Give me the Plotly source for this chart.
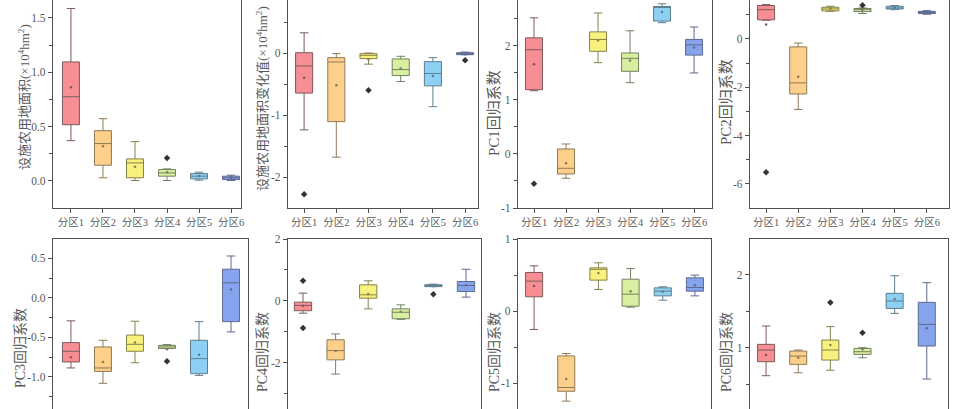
import plotly.graph_objects as go

W, H = 962, 409

ZONES = ["分区1", "分区2", "分区3", "分区4", "分区5", "分区6"]
FILLS = ["#F68E93", "#FCCF8A", "#F8F17E", "#D8EFA0", "#8ED0F4", "#86A3EE"]
LINES = ["#7E5A5C", "#8F7A55", "#85824A", "#748060", "#5D7D8F", "#5E6A8F"]

# ---- panel 1: 设施农用地面积
P1_LOW = [0.37, 0.028, 0.003, 0.003, 0.006, 0.003]
P1_Q1 = [0.517, 0.144, 0.028, 0.043, 0.018, 0.012]
P1_MED = [0.774, 0.343, 0.165, 0.073, 0.043, 0.028]
P1_Q3 = [1.095, 0.462, 0.202, 0.104, 0.067, 0.043]
P1_HIGH = [1.587, 0.572, 0.361, 0.11, 0.08, 0.052]
P1_MEAN = [0.862, 0.318, 0.13, 0.08, 0.045, 0.03]
P1_OUT = [(4, 0.211)]

# ---- panel 2: 设施农用地面积变化值
P2_LOW = [-1.24, -1.68, -0.18, -0.46, -0.866, -0.027]
P2_Q1 = [-0.647, -1.107, -0.09, -0.364, -0.53, -0.027]
P2_MED = [-0.209, -0.144, -0.037, -0.267, -0.33, -0.005]
P2_Q3 = [0.005, -0.075, -0.01, -0.096, -0.139, 0.005]
P2_HIGH = [0.326, -0.01, 0.0, -0.053, -0.075, 0.016]
P2_MEAN = [-0.40, -0.52, -0.10, -0.25, -0.37, -0.02]
P2_OUT = [(1, -2.28), (3, -0.6), (6, -0.118)]

# ---- panel 3: PC1
P3_LOW = [1.17, -0.45, 1.69, 1.32, 2.43, 1.50]
P3_Q1 = [1.19, -0.37, 1.90, 1.53, 2.46, 1.83]
P3_MED = [1.93, -0.265, 2.12, 1.77, 2.71, 2.02]
P3_Q3 = [2.15, 0.093, 2.26, 1.87, 2.73, 2.12]
P3_HIGH = [2.52, 0.185, 2.61, 2.28, 2.78, 2.35]
P3_MEAN = [1.66, -0.17, 2.10, 1.73, 2.63, 1.97]
P3_OUT = [(1, -0.55)]

# ---- panel 4: PC2
P4_LOW = [0.77, -2.92, 1.14, 1.05, 1.21, 1.02]
P4_Q1 = [0.79, -2.28, 1.16, 1.13, 1.24, 1.05]
P4_MED = [1.21, -1.82, 1.24, 1.21, 1.28, 1.10]
P4_Q3 = [1.38, -0.33, 1.31, 1.26, 1.35, 1.14]
P4_HIGH = [1.42, -0.17, 1.35, 1.28, 1.38, 1.17]
P4_MEAN = [0.60, -1.57, 1.25, 1.20, 1.30, 1.10]
P4_OUT = [(1, -5.52), (4, 1.39)]

# ---- panel 5: PC3
P5_LOW = [-0.886, -1.08, -0.82, -0.64, -0.98, -0.43]
P5_Q1 = [-0.81, -0.93, -0.675, -0.64, -0.958, -0.30]
P5_MED = [-0.675, -0.886, -0.587, -0.62, -0.768, 0.19]
P5_Q3 = [-0.565, -0.62, -0.47, -0.60, -0.536, 0.363]
P5_HIGH = [-0.29, -0.536, -0.295, -0.59, -0.30, 0.53]
P5_MEAN = [-0.75, -0.81, -0.565, -0.65, -0.72, 0.105]
P5_OUT = [(4, -0.80)]

# ---- panel 6: PC4
P6_LOW = [-0.40, -2.37, -0.26, -0.60, 0.46, 0.12]
P6_Q1 = [-0.32, -1.91, 0.086, -0.58, 0.46, 0.30]
P6_MED = [-0.15, -1.61, 0.194, -0.37, 0.50, 0.496]
P6_Q3 = [-0.043, -1.26, 0.517, -0.26, 0.52, 0.625]
P6_HIGH = [0.248, -1.07, 0.647, -0.13, 0.54, 1.02]
P6_MEAN = [-0.16, -1.62, 0.22, -0.35, 0.47, 0.50]
P6_OUT = [(1, 0.647), (1, -0.88), (5, 0.216)]

# ---- panel 7: PC5
P7_LOW = [-0.254, -1.247, 0.30, 0.055, 0.152, 0.212]
P7_Q1 = [0.199, -1.11, 0.43, 0.069, 0.212, 0.277]
P7_MED = [0.416, -1.058, 0.58, 0.236, 0.277, 0.328]
P7_Q3 = [0.536, -0.62, 0.60, 0.443, 0.323, 0.462]
P7_HIGH = [0.628, -0.587, 0.67, 0.59, 0.337, 0.499]
P7_MEAN = [0.35, -0.94, 0.53, 0.277, 0.27, 0.36]
P7_OUT = []

# ---- panel 8: PC6
P8_LOW = [0.615, 0.656, 0.69, 0.862, 1.472, 0.569]
P8_Q1 = [0.807, 0.771, 0.83, 0.908, 1.54, 1.023]
P8_MED = [0.968, 0.885, 0.968, 0.945, 1.642, 1.32]
P8_Q3 = [1.046, 0.954, 1.105, 0.99, 1.748, 1.624]
P8_HIGH = [1.298, 0.968, 1.29, 1.0, 1.99, 1.894]
P8_MEAN = [0.90, 0.862, 1.037, 0.98, 1.67, 1.266]
P8_OUT = [(3, 1.62), (4, 1.206)]

TITLES = [
    "设施农用地面积(×10<sup>4</sup>hm<sup>2</sup>)",
    "设施农用地面积变化值(×10<sup>4</sup>hm<sup>2</sup>)",
    "PC1回归系数", "PC2回归系数", "PC3回归系数",
    "PC4回归系数", "PC5回归系数", "PC6回归系数",
]

Y_TICKS = [
    [0.0, 0.5, 1.0, 1.5],
    [-2, -1, 0],
    [-1, 0, 1, 2],
    [-6, -4, -2, 0],
    [-1.0, -0.5, 0.0, 0.5],
    [-2, 0, 2],
    [-1, 0, 1],
    [1, 2],
]
Y_MINOR = [
    [0.25, 0.75, 1.25],
    [-1.5, -0.5, 0.5],
    [-0.5, 0.5, 1.5, 2.5],
    [-5, -3, -1, 1],
    [-1.25, -0.75, -0.25, 0.25],
    [-3, -1, 1],
    [-0.5, 0.5],
    [0.5, 1.5],
]
Y_FMT = [".1f", "d", "d", "d", ".1f", "d", "d", "d"]

# ---------------- layout geometry (pixels) ----------------
X_PIX = [(53, 241), (288, 478), (518, 712), (750, 949),
         (53, 248), (288, 481), (518, 711), (750, 948)]
X_RANGE = [(0.44, 6.31), (0.50, 6.40), (0.50, 6.56), (0.50, 6.69),
           (0.44, 6.53), (0.54, 6.46), (0.50, 6.50), (0.50, 6.66)]
Y_RANGE = [(-0.25, 1.665), (-2.5, 0.855), (-1.0, 2.85), (-7.0, 1.61),
           (-1.405, 0.745), (-3.5, 2.0), (-1.356, 1.0), (0.157, 2.495)]
TOP_ROW_PIX = (0, 208)
BOT_ROW_PIX = (239, 409)
TITLE_POS = [(24, 97, 13), (262, 99, 13), (494, 113, 15), (726, 102, 15),
             (20, 348, 14), (262, 352, 14), (494, 352, 14), (726, 352, 14)]

PANELS = [
    (P1_LOW, P1_Q1, P1_MED, P1_Q3, P1_HIGH, P1_MEAN, P1_OUT),
    (P2_LOW, P2_Q1, P2_MED, P2_Q3, P2_HIGH, P2_MEAN, P2_OUT),
    (P3_LOW, P3_Q1, P3_MED, P3_Q3, P3_HIGH, P3_MEAN, P3_OUT),
    (P4_LOW, P4_Q1, P4_MED, P4_Q3, P4_HIGH, P4_MEAN, P4_OUT),
    (P5_LOW, P5_Q1, P5_MED, P5_Q3, P5_HIGH, P5_MEAN, P5_OUT),
    (P6_LOW, P6_Q1, P6_MED, P6_Q3, P6_HIGH, P6_MEAN, P6_OUT),
    (P7_LOW, P7_Q1, P7_MED, P7_Q3, P7_HIGH, P7_MEAN, P7_OUT),
    (P8_LOW, P8_Q1, P8_MED, P8_Q3, P8_HIGH, P8_MEAN, P8_OUT),
]

FONT = "Liberation Serif, Times New Roman, Noto Sans CJK SC, serif"
TXT = "#595959"
AX = "#505050"

fig = go.Figure()
layout = {}
annotations = []


def fmt(v, f):
    s = format(v, f) if f != "d" else str(int(v))
    return s.replace("\u2212", "-")


for p, (lo, q1, med, q3, hi, mean, outs) in enumerate(PANELS):
    n = p + 1
    xa = "x" if n == 1 else f"x{n}"
    ya = "y" if n == 1 else f"y{n}"
    top = p < 4
    for i in range(len(ZONES)):
        fig.add_trace(go.Box(
            x=[i + 1], q1=[q1[i]], median=[med[i]], q3=[q3[i]],
            lowerfence=[lo[i]], upperfence=[hi[i]],
            width=0.53, whiskerwidth=0.5,
            fillcolor=FILLS[i], line=dict(color=LINES[i], width=1),
            xaxis=xa, yaxis=ya, showlegend=False, hoverinfo="skip",
            boxpoints=False,
        ))
    fig.add_trace(go.Scatter(
        x=[i + 1 for i in range(len(ZONES))], y=mean, mode="markers",
        marker=dict(size=2.5, color=LINES), xaxis=xa, yaxis=ya,
        showlegend=False, hoverinfo="skip",
    ))
    if outs:
        fig.add_trace(go.Scatter(
            x=[o[0] for o in outs], y=[o[1] for o in outs], mode="markers",
            marker=dict(size=5, color="#333333", symbol="diamond"),
            xaxis=xa, yaxis=ya, showlegend=False, hoverinfo="skip",
        ))

    x0, x1 = X_PIX[p]
    rp = TOP_ROW_PIX if top else BOT_ROW_PIX
    xdom = [x0 / W, x1 / W]
    ydom = [1 - rp[1] / H, 1 - rp[0] / H]
    xkey = "xaxis" if n == 1 else f"xaxis{n}"
    ykey = "yaxis" if n == 1 else f"yaxis{n}"
    xcfg = dict(
        domain=xdom, range=list(X_RANGE[p]), anchor=ya, automargin=False,
        tickmode="array", tickvals=[i + 1 for i in range(len(ZONES))],
        ticktext=ZONES, showgrid=False, zeroline=False,
        showline=True, linecolor=AX, linewidth=1.2,
        tickfont=dict(family=FONT, size=10.5, color=TXT),
        fixedrange=True,
    )
    if top:
        xcfg.update(ticks="outside", ticklen=4, tickcolor=AX, mirror=False)
    else:
        xcfg.update(side="top", ticks="", showticklabels=False, mirror=False)
    layout[xkey] = xcfg
    layout[ykey] = dict(
        domain=ydom, range=list(Y_RANGE[p]), anchor=xa, automargin=False,
        tickmode="array", tickvals=Y_TICKS[p],
        ticktext=[fmt(v, Y_FMT[p]) for v in Y_TICKS[p]],
        ticks="outside", ticklen=4, tickcolor=AX,
        minor=dict(tickmode="array", tickvals=Y_MINOR[p], ticks="outside",
                   ticklen=2.5, tickcolor=AX, showgrid=False),
        showgrid=False, zeroline=False, showline=True, linecolor=AX,
        linewidth=1.2, mirror=True,
        tickfont=dict(family=FONT, size=11.5, color=TXT),
        fixedrange=True,
    )
    tx, ty, ts = TITLE_POS[p]
    annotations.append(dict(
        text=TITLES[p], x=tx / W, y=1 - ty / H, xref="paper", yref="paper",
        showarrow=False, textangle=-90, xanchor="center", yanchor="middle",
        font=dict(family=FONT, size=ts, color=TXT),
    ))

fig.update_layout(
    width=W, height=H, margin=dict(l=0, r=0, t=0, b=0),
    paper_bgcolor="white", plot_bgcolor="white",
    annotations=annotations, boxmode="overlay",
    **layout,
)

fig.write_html(
    "out.html",
    config={"displayModeBar": False, "staticPlot": True},
    post_script="document.body.style.margin='0';document.body.style.padding='0';",
)
